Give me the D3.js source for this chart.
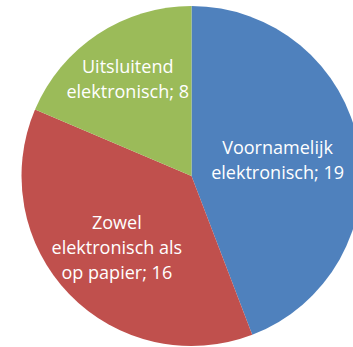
<!DOCTYPE html>
<html>
<head>
<meta charset="utf-8">
<script src="https://cdn.jsdelivr.net/npm/d3@7"></script>
<style>
html,body{margin:0;padding:0;background:#fff;overflow:hidden;}
svg{display:block;}
</style>
</head>
<body>
<svg id="chart" width="353" height="347"></svg>
<script>
// Data
const categories = ["Voornamelijk elektronisch", "Zowel elektronisch als op papier", "Uitsluitend elektronisch"];
const values = [19, 16, 8];
const labelLines = [
  ["Voornamelijk", "elektronisch; 19"],
  ["Zowel", "elektronisch als", "op papier; 16"],
  ["Uitsluitend", "elektronisch; 8"]
];
const colors = ["#4F81BD", "#C0504D", "#9BBB59"];

// Layout
const W = 353, H = 347;
const cx = 191.5, cy = 176, R = 170;
const labelRadiusFrac = [0.515, 0.61, 0.68];
const lineH = 25;

const svg = d3.select("#chart");
const g = svg.append("g").attr("transform", `translate(${cx},${cy})`);

const pie = d3.pie().sort(null).value(d => d)(values);
const arc = d3.arc().innerRadius(0).outerRadius(R);

g.selectAll("path.slice").data(pie).join("path")
  .attr("class", "slice")
  .attr("d", arc)
  .attr("fill", (d, i) => colors[i]);

// fit font size
const font = "'Open Sans', 'DejaVu Sans', sans-serif";
const probe = svg.append("text").attr("font-family", font).attr("font-size", 20).text("elektronisch; 19");
const w20 = probe.node().getComputedTextLength();
probe.remove();
const fontSize = 20 * 133 / w20;

pie.forEach((d, i) => {
  const rr = R * labelRadiusFrac[i];
  const [lx, ly] = d3.arc().innerRadius(rr).outerRadius(rr).centroid(d);
  const lines = labelLines[i];
  const t = g.append("text")
    .attr("text-anchor", "middle")
    .attr("font-family", font)
    .attr("font-size", fontSize)
    .attr("fill", "#ffffff");
  const startY = ly - (lines.length - 1) * lineH / 2 + fontSize * 0.35;
  lines.forEach((ln, k) => {
    t.append("tspan").attr("x", lx).attr("y", startY + k * lineH).text(ln);
  });
});
</script>
</body>
</html>
